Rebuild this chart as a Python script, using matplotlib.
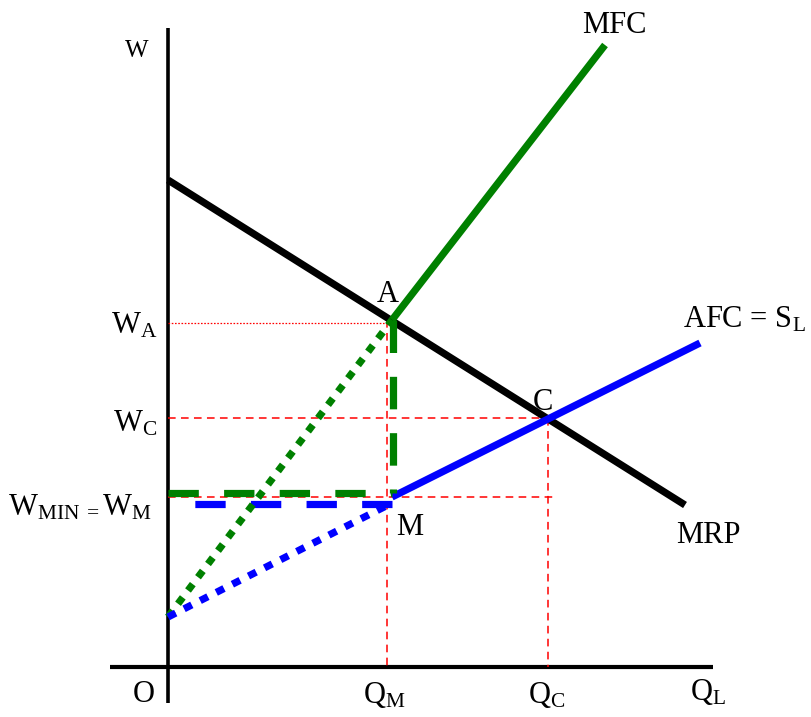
import numpy as np
import matplotlib
matplotlib.use('Agg')
import matplotlib.pyplot as plt

plt.rcParams['font.family'] = ['Liberation Serif', 'DejaVu Serif']
plt.rcParams['mathtext.fontset'] = 'custom'
plt.rcParams['mathtext.rm'] = 'Liberation Serif'
plt.rcParams['mathtext.it'] = 'Liberation Serif:italic'

# ---- valeurs du schéma (unités arbitraires, origine = O) ----
Q_M = 22.4
Q_C = 38.0
W_A = 34.7
W_C = 24.9
W_M = 17.0
W_0 = 5.0  # ordonnée à l'origine de l'offre

mrp_q = [0.0, 51.7]
mrp_w = [48.7, 16.2]
mfc_q = [Q_M, 43.7]
mfc_w = [W_A, 62.2]
afc_q = [Q_M, 53.2]
afc_w = [W_M, 32.4]

axis_x = [-5.8, 54.5]
axis_y = [-3.6, 63.9]

GREEN = '#008000'
BLUE = '#0000ff'
RED = '#ff0000'

fig = plt.figure(figsize=(8.11, 7.17), dpi=100)
ax = fig.add_axes([0, 0, 1, 1])
ax.set_xlim(-16.8, 64.3)
ax.set_ylim(-5.0, 66.7)
ax.axis('off')

# axes
ax.plot(axis_x, [0, 0], color='black', lw=3.0, solid_capstyle='butt')
ax.plot([0, 0], axis_y, color='black', lw=2.6, solid_capstyle='butt')

# lignes de repère rouges
ax.plot([0, Q_M - 0.5], [W_A - 0.3, W_A - 0.3], color=RED, lw=0.9,
        linestyle=(0, (1.3, 1.3)))
ax.plot([0, Q_C], [W_C, W_C], color=RED, lw=1.1, linestyle=(0, (5, 3.5)))
ax.plot([0, Q_C + 0.6], [W_M, W_M], color=RED, lw=1.1, linestyle=(0, (5, 3.5)))
ax.plot([Q_M - 0.5, Q_M - 0.5], [W_A, 0], color=RED, lw=1.1,
        linestyle=(0, (5, 3.5)))
ax.plot([Q_C, Q_C], [W_C, 0], color=RED, lw=1.1, linestyle=(0, (5, 3.5)))

# courbes principales
ax.plot(mrp_q, mrp_w, color='black', lw=5.2, solid_capstyle='butt')
ax.plot(mfc_q, mfc_w, color=GREEN, lw=5.2, solid_capstyle='butt')
ax.plot(afc_q, afc_w, color=BLUE, lw=5.2, solid_capstyle='butt')

# salaire minimum : segments en tirets
ax.plot([0, Q_M], [W_M + 0.4, W_M + 0.4], color=GREEN, lw=5.2,
        linestyle=(0, (4.2, 3.5)), dash_capstyle='butt')
ax.plot([Q_M + 0.1, Q_M + 0.1], [W_A, W_M + 0.4], color=GREEN, lw=5.2,
        linestyle=(0, (4.5, 3.3)), dash_capstyle='butt')
ax.plot([Q_M, 2.5], [W_M - 0.7, W_M - 0.7], color=BLUE, lw=5.2,
        linestyle=(0, (4.2, 3.5)), dash_capstyle='butt')

# prolongements en pointillés
ax.plot([0, Q_M], [W_0, W_A], color=GREEN, lw=5.2,
        linestyle=(0, (1.1, 1.2)), dash_capstyle='butt')
ax.plot([0, Q_M - 0.2], [W_0, W_M - 0.7], color=BLUE, lw=5.2,
        linestyle=(0, (1.2, 1.3)), dash_capstyle='butt')

fs = 22
# étiquettes
ax.text(-3.1, 61.0, 'W', fontsize=18, ha='center', va='baseline')
ax.text(44.6, 63.4, 'MFC', fontsize=fs, ha='center', va='baseline')
ax.text(22.0, 36.45, 'A', fontsize=fs, ha='center', va='baseline')
ax.text(37.5, 25.7, 'C', fontsize=fs, ha='center', va='baseline')
ax.text(24.2, 13.2, 'M', fontsize=fs, ha='center', va='baseline')
ax.text(54.0, 12.4, 'MRP', fontsize=fs, ha='center', va='baseline')
ax.text(51.5, 33.9, r'AFC = S$_{\mathrm{L}}$', fontsize=fs, ha='left', va='baseline')
ax.text(-1.1, 33.4, r'W$_{\mathrm{A}}$', fontsize=fs, ha='right', va='baseline')
ax.text(-1.1, 23.5, r'W$_{\mathrm{C}}$', fontsize=fs, ha='right', va='baseline')
ax.text(-1.6, 15.2, r'W$_{\mathrm{MIN\ =}}$W$_{\mathrm{M}}$', fontsize=fs,
        ha='right', va='baseline')
ax.text(-2.4, -3.5, 'O', fontsize=fs, ha='center', va='baseline')
ax.text(19.5, -3.6, r'Q$_{\mathrm{M}}$', fontsize=fs, ha='left', va='baseline')
ax.text(36.0, -3.6, r'Q$_{\mathrm{C}}$', fontsize=fs, ha='left', va='baseline')
ax.text(52.2, -3.3, r'Q$_{\mathrm{L}}$', fontsize=fs, ha='left', va='baseline')

fig.savefig('out.png', dpi=100, facecolor='white')
